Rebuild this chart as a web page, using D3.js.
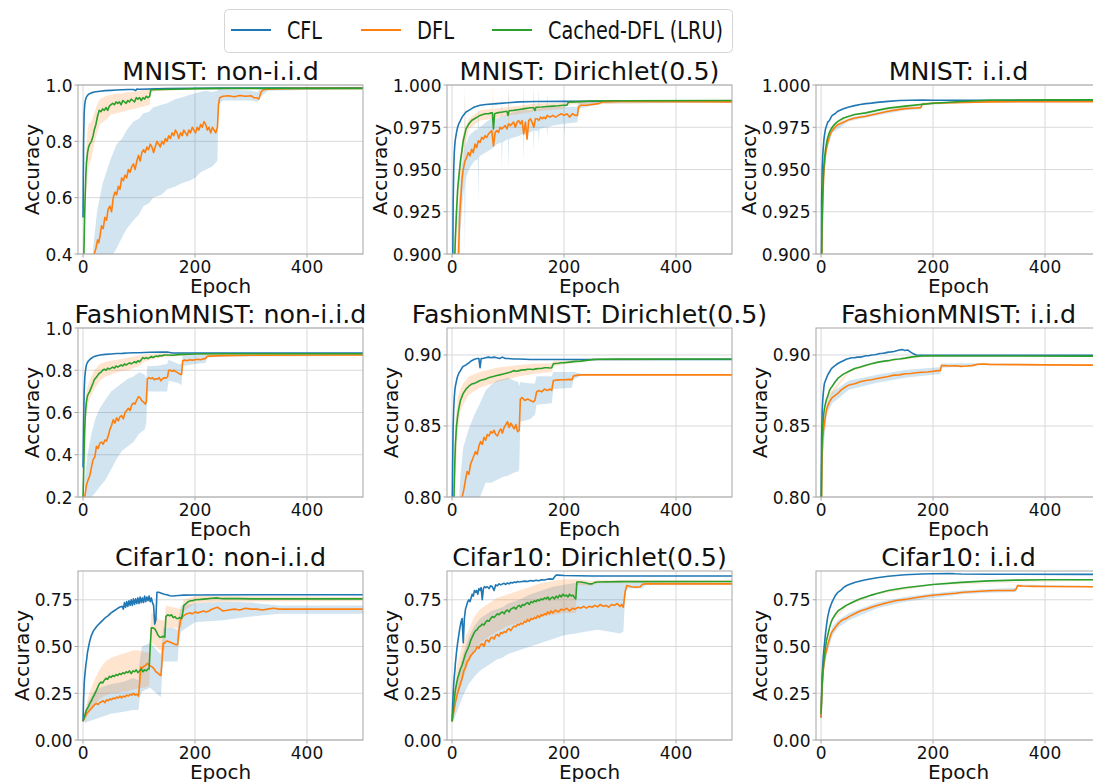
<!DOCTYPE html>
<html>
<head>
<meta charset="utf-8">
<script src="https://cdn.jsdelivr.net/npm/d3@7"></script>
<style>
  body { margin: 0; background: #fff; }
  svg { display: block; }
  text { font-family: "DejaVu Sans", sans-serif; fill: #111; }
</style>
</head>
<body>
<svg id="chart" width="1093" height="782"></svg>
<script>
// ---- Series: [epoch, accuracy]; bands: [epoch, low, high] ----

const seriesNames = ["CFL", "DFL", "Cached-DFL (LRU)"];
const seriesColors = ["#1f77b4", "#ff7f0e", "#2ca02c"];
const xTicks = [0, 200, 400];

// MNIST: non-i.i.d
const cfl_mnistNon = [[0,.53],[1,.80],[2,.90],[3,.93],[4,.945],[6,.957],[8,.963],[10,.967],[15,.972],[20,.975],[30,.978],[40,.98],[50,.981],[60,.982],[70,.983],[80,.984],[90,.984],[94,.98],[96,.986],[100,.985],[150,.987],[200,.988],[250,.989],[500,.99]];
const dfl_mnistNon = [[0,.12],[5,.2],[10,.28],[15,.34],[18,.38],[20,.40],[23,.42],[26,.45],[28,.44],[30,.46],[33,.50],[36,.49],[39,.53],[42,.52],[45,.56],[48,.57],[51,.55],[54,.60],[57,.62],[60,.61],[63,.64],[66,.63],[69,.67],[72,.66],[75,.68],[78,.67],[81,.70],[84,.69],[87,.71],[90,.72],[93,.70],[96,.73],[99,.75],[102,.73],[105,.76],[108,.77],[111,.76],[114,.78],[117,.77],[120,.79],[123,.78],[126,.76],[129,.78],[132,.80],[135,.79],[138,.78],[141,.80],[144,.79],[147,.81],[150,.80],[153,.82],[156,.81],[159,.83],[162,.82],[165,.84],[168,.83],[171,.81],[174,.83],[177,.82],[180,.84],[183,.83],[186,.82],[189,.84],[192,.83],[195,.85],[198,.84],[201,.83],[204,.85],[207,.84],[210,.86],[213,.85],[216,.87],[219,.86],[222,.84],[225,.85],[228,.83],[231,.85],[234,.84],[237,.83],[240,.85],[242,.93],[244,.955],[250,.96],[260,.962],[270,.958],[280,.963],[290,.96],[300,.962],[305,.955],[310,.955],[314,.95],[318,.975],[322,.983],[330,.985],[360,.987],[400,.988],[500,.988]];
const cached_mnistNon = [[0,.20],[1,.35],[2,.45],[3,.55],[4,.62],[5,.68],[6,.72],[8,.76],[10,.78],[12,.79],[15,.80],[18,.82],[20,.84],[23,.86],[26,.89],[29,.91],[32,.905],[35,.915],[38,.91],[41,.92],[44,.91],[47,.925],[50,.93],[53,.935],[56,.93],[59,.94],[62,.935],[65,.94],[68,.93],[71,.945],[74,.94],[77,.935],[80,.945],[83,.94],[86,.95],[89,.945],[92,.94],[95,.955],[98,.95],[101,.955],[104,.945],[107,.955],[110,.95],[113,.96],[116,.955],[119,.96],[121,.982],[125,.983],[140,.984],[160,.985],[180,.986],[200,.987],[250,.988],[500,.988]];
const dflBand_mnistNon = [[18,.30,.42],[25,.30,.55],[35,.32,.65],[48,.38,.73],[60,.42,.79],[70,.46,.81],[78,.49,.84],[90,.52,.87],[100,.54,.88],[108,.57,.90],[118,.58,.905],[125,.60,.92],[140,.61,.93],[150,.63,.935],[165,.64,.95],[175,.65,.955],[190,.66,.965],[200,.67,.97],[210,.69,.976],[220,.70,.98],[230,.71,.975],[240,.73,.98],[242,.93,.99],[250,.945,.985],[300,.945,.98],[312,.94,.975],[318,.96,.99],[330,.98,.99],[500,.986,.99]];
const cachedBand_mnistNon = [[1,.30,.40],[3,.48,.62],[5,.60,.75],[8,.68,.84],[10,.71,.86],[15,.74,.87],[20,.79,.90],[25,.83,.93],[30,.86,.95],[40,.875,.96],[50,.895,.965],[60,.90,.97],[70,.905,.97],[80,.91,.975],[90,.915,.975],[100,.92,.98],[110,.925,.985],[119,.93,.985],[121,.975,.99],[130,.978,.99],[200,.984,.99],[500,.986,.99]];
const yTicks_mnistNon = [0.4, 0.6, 0.8, 1.0];

// MNIST: Dirichlet(0.5)
const cfl_mnistDir = [[0,.80],[1,.88],[2,.93],[3,.95],[4,.96],[5,.965],[6,.968],[8,.972],[10,.975],[12,.977],[15,.979],[18,.981],[20,.982],[25,.984],[30,.985],[35,.986],[40,.987],[50,.988],[60,.9885],[80,.989],[100,.9895],[120,.99],[150,.9902],[200,.9903],[300,.9904],[500,.9905]];
const dfl_mnistDir = [[0,.50],[5,.75],[10,.88],[12,.905],[14,.925],[16,.935],[18,.945],[20,.95],[23,.955],[26,.957],[29,.96],[32,.958],[35,.962],[38,.96],[41,.965],[44,.963],[47,.967],[50,.966],[53,.969],[56,.968],[59,.97],[62,.969],[65,.971],[68,.972],[71,.973],[74,.964],[77,.972],[80,.973],[83,.972],[86,.975],[89,.974],[92,.975],[95,.976],[98,.974],[101,.977],[104,.976],[107,.977],[110,.978],[113,.975],[116,.978],[119,.979],[122,.977],[125,.979],[128,.971],[131,.978],[134,.968],[137,.979],[140,.98],[143,.978],[146,.975],[149,.98],[152,.98],[155,.979],[158,.981],[161,.98],[164,.981],[167,.98],[170,.982],[175,.981],[180,.982],[185,.981],[190,.982],[195,.983],[200,.982],[205,.983],[210,.981],[215,.983],[220,.982],[224,.982],[226,.987],[230,.988],[240,.988],[250,.9885],[262,.989],[268,.990],[300,.9902],[400,.9901],[500,.99]];
const cached_mnistDir = [[0,.70],[2,.80],[4,.88],[5,.90],[6,.91],[8,.925],[10,.938],[12,.945],[15,.955],[18,.962],[20,.967],[25,.974],[30,.977],[35,.979],[40,.980],[45,.981],[50,.982],[55,.9825],[60,.983],[65,.983],[70,.9835],[72,.9835],[74,.974],[76,.983],[80,.9835],[90,.984],[98,.9845],[100,.982],[102,.9848],[110,.985],[120,.9855],[130,.986],[140,.9865],[146,.9865],[148,.985],[150,.9868],[160,.987],[170,.9873],[180,.9875],[190,.9877],[200,.988],[205,.988],[208,.9898],[220,.990],[250,.9905],[300,.9907],[500,.9908]];
const dflBand_mnistDir = [[10,.85,.92],[15,.915,.945],[20,.935,.96],[22,.94,.962],[23,.90,.995],[24,.942,.963],[25,.945,.965],[30,.95,.97],[40,.955,.973],[46,.956,.974],[47,.93,.99],[48,.957,.975],[50,.958,.975],[60,.96,.978],[70,.962,.98],[80,.965,.98],[88,.966,.981],[89,.95,.995],[90,.966,.981],[100,.968,.983],[101,.95,1.0],[102,.968,.983],[120,.97,.985],[127,.971,.985],[128,.955,1.0],[129,.971,.985],[140,.972,.985],[145,.973,.986],[146,.96,1.0],[147,.973,.986],[154,.973,.986],[155,.965,.998],[156,.974,.986],[169,.975,.987],[170,.97,.995],[171,.975,.987],[180,.976,.987],[200,.977,.987],[201,.97,.993],[202,.977,.987],[224,.978,.987],[226,.986,.99],[270,.989,.991],[500,.9895,.9905]];
const cachedBand_mnistDir = [[2,.77,.83],[5,.88,.92],[10,.93,.945],[20,.962,.972],[22,.963,.973],[23,.95,1.0],[24,.965,.975],[30,.974,.98],[50,.979,.985],[72,.98,.986],[73,.97,1.0],[74,.97,.985],[76,.98,.986],[100,.982,.987],[101,.975,.998],[102,.982,.987],[150,.9845,.989],[200,.986,.9895],[208,.9885,.991],[500,.9902,.9912]];
const yTicks_mnistDir = [0.9, 0.925, 0.95, 0.975, 1.0];

// MNIST: i.i.d
const cfl_mnistIid = [[0,.80],[1,.93],[2,.95],[3,.958],[4,.963],[5,.967],[6,.97],[8,.974],[10,.976],[12,.978],[15,.979],[18,.981],[20,.982],[25,.983],[30,.9845],[40,.986],[50,.987],[60,.9878],[70,.9885],[80,.989],[90,.9893],[100,.9897],[120,.9903],[140,.9908],[160,.991],[180,.9911],[200,.991],[250,.991],[300,.991],[500,.991]];
const dfl_mnistIid = [[0,.80],[1,.89],[2,.915],[3,.93],[4,.94],[5,.948],[6,.952],[8,.959],[10,.963],[12,.966],[15,.9695],[18,.972],[20,.973],[25,.975],[30,.9765],[40,.978],[50,.9795],[60,.9805],[80,.9815],[100,.983],[120,.9845],[135,.9853],[150,.986],[170,.9864],[178,.9866],[181,.9888],[200,.9892],[250,.9897],[300,.99],[500,.9902]];
const cached_mnistIid = [[0,.80],[1,.90],[2,.92],[3,.935],[4,.945],[5,.952],[6,.956],[8,.962],[10,.966],[12,.969],[15,.972],[18,.974],[20,.975],[25,.977],[30,.9785],[40,.9805],[50,.9815],[60,.9825],[80,.9835],[100,.985],[120,.9863],[150,.9875],[200,.9892],[250,.9902],[300,.991],[400,.9912],[500,.9912]];
const dflBand_mnistIid = [[1,.885,.895],[5,.945,.951],[10,.961,.965],[20,.9715,.9745],[50,.9785,.9805],[100,.982,.984],[150,.985,.987],[178,.9857,.9875],[181,.988,.9895],[250,.9892,.9902],[500,.9898,.9906]];
const cachedBand_mnistIid = [[1,.897,.903],[5,.95,.954],[10,.9645,.9675],[20,.974,.976],[50,.981,.982],[100,.9845,.9855],[200,.9888,.9896],[500,.991,.9914]];
const yTicks_mnistIid = [0.9, 0.925, 0.95, 0.975, 1.0];

// FashionMNIST: non-i.i.d
const cfl_fmnistNon = [[0,.34],[1,.55],[2,.70],[3,.76],[4,.79],[5,.81],[6,.825],[8,.838],[10,.845],[12,.85],[15,.857],[18,.862],[20,.865],[25,.869],[30,.872],[40,.875],[50,.877],[60,.879],[70,.88],[80,.882],[90,.883],[100,.883],[120,.885],[140,.886],[150,.886],[155,.884],[160,.882],[200,.882],[300,.882],[500,.882]];
const dfl_fmnistNon = [[0,.12],[3,.20],[6,.255],[9,.28],[12,.30],[15,.34],[18,.377],[21,.39],[24,.44],[27,.43],[30,.455],[33,.46],[36,.45],[39,.47],[42,.465],[45,.49],[48,.52],[51,.54],[54,.566],[57,.55],[60,.575],[63,.56],[66,.58],[69,.585],[72,.57],[75,.60],[78,.61],[81,.62],[84,.61],[87,.635],[90,.645],[93,.64],[96,.66],[99,.675],[102,.67],[105,.655],[108,.65],[111,.64],[113,.65],[115,.76],[118,.765],[121,.76],[124,.765],[127,.755],[130,.76],[133,.758],[136,.765],[139,.75],[142,.76],[145,.765],[148,.762],[151,.77],[153,.80],[156,.80],[159,.795],[162,.80],[165,.795],[168,.79],[171,.785],[174,.78],[176,.78],[178,.845],[182,.848],[186,.845],[190,.85],[195,.848],[200,.85],[205,.852],[210,.85],[215,.855],[219,.855],[221,.865],[225,.867],[235,.868],[250,.869],[300,.871],[500,.872]];
const cached_fmnistNon = [[0,.20],[1,.30],[2,.42],[3,.52],[4,.58],[5,.62],[6,.65],[8,.68],[10,.69],[12,.70],[15,.72],[18,.74],[20,.755],[23,.765],[26,.775],[29,.786],[32,.79],[35,.80],[38,.805],[41,.80],[44,.81],[47,.805],[50,.81],[53,.815],[56,.81],[59,.82],[62,.815],[65,.82],[68,.825],[71,.82],[74,.83],[77,.825],[80,.83],[83,.835],[86,.83],[89,.835],[92,.84],[95,.835],[98,.845],[101,.84],[104,.85],[107,.86],[110,.855],[113,.86],[116,.855],[119,.86],[122,.865],[125,.86],[128,.865],[131,.867],[134,.865],[137,.87],[140,.868],[145,.872],[150,.872],[160,.871],[170,.874],[180,.875],[190,.876],[200,.877],[250,.878],[500,.878]];
const dflBand_fmnistNon = [[3,.12,.28],[8,.15,.40],[15,.20,.50],[22,.22,.57],[30,.25,.62],[40,.28,.66],[50,.33,.70],[60,.38,.72],[70,.42,.74],[80,.44,.76],[90,.46,.77],[100,.50,.79],[110,.52,.78],[113,.55,.76],[115,.70,.82],[130,.70,.82],[150,.70,.83],[153,.75,.85],[170,.74,.83],[176,.73,.83],[178,.82,.87],[200,.83,.872],[219,.835,.875],[221,.86,.872],[250,.864,.874],[500,.868,.876]];
const cachedBand_fmnistNon = [[1,.25,.35],[3,.45,.60],[6,.60,.70],[10,.65,.74],[15,.68,.77],[20,.71,.80],[30,.75,.83],[40,.77,.84],[50,.78,.845],[60,.79,.85],[70,.795,.855],[80,.80,.86],[90,.81,.865],[100,.82,.87],[110,.84,.875],[120,.85,.878],[140,.86,.88],[160,.865,.88],[200,.872,.882],[500,.875,.881]];
const yTicks_fmnistNon = [0.2, 0.4, 0.6, 0.8, 1.0];

// FashionMNIST: Dirichlet(0.5)
const cfl_fmnistDir = [[0,.78],[1,.82],[2,.85],[3,.862],[4,.87],[5,.875],[6,.878],[8,.882],[10,.885],[12,.887],[15,.889],[18,.891],[20,.892],[25,.893],[30,.8945],[35,.896],[40,.897],[45,.8975],[48,.8975],[50,.891],[52,.8975],[55,.8975],[60,.898],[65,.8985],[70,.898],[75,.8985],[80,.898],[85,.8975],[90,.8985],[95,.8975],[100,.8975],[110,.8972],[120,.8972],[130,.897],[140,.8968],[150,.8968],[200,.8968],[300,.8968],[500,.8968]];
const dfl_fmnistDir = [[0,.65],[5,.72],[10,.76],[15,.79],[18,.80],[21,.805],[24,.812],[27,.818],[30,.816],[33,.823],[36,.826],[39,.829],[42,.832],[45,.83],[48,.836],[51,.839],[54,.837],[57,.842],[60,.84],[63,.844],[66,.843],[69,.846],[72,.845],[75,.847],[78,.844],[81,.843],[84,.846],[87,.848],[90,.845],[93,.849],[96,.851],[99,.853],[102,.849],[105,.852],[108,.85],[111,.848],[114,.851],[117,.846],[120,.847],[122,.869],[125,.87],[130,.868],[135,.869],[140,.868],[145,.867],[148,.868],[151,.874],[155,.875],[160,.874],[165,.876],[170,.875],[175,.876],[178,.875],[181,.882],[190,.8825],[200,.8826],[210,.8828],[214,.8825],[217,.8853],[225,.8858],[231,.886],[300,.886],[500,.886]];
const cached_fmnistDir = [[0,.70],[1,.74],[2,.77],[3,.79],[4,.81],[5,.825],[6,.837],[8,.85],[10,.857],[12,.862],[15,.868],[18,.871],[20,.873],[25,.876],[30,.878],[35,.8795],[40,.880],[45,.881],[50,.882],[55,.8825],[60,.883],[65,.884],[70,.8845],[75,.885],[80,.8856],[85,.886],[90,.8865],[95,.887],[100,.8875],[105,.888],[110,.889],[115,.8885],[120,.889],[125,.8895],[130,.8895],[135,.890],[140,.890],[145,.8898],[150,.8902],[155,.8905],[160,.8905],[165,.891],[170,.891],[175,.8908],[178,.891],[181,.8938],[185,.894],[190,.8942],[195,.8945],[200,.8945],[210,.895],[220,.8955],[230,.8957],[240,.8962],[250,.8967],[260,.897],[300,.8971],[500,.8972]];
const dflBand_fmnistDir = [[10,.74,.78],[15,.76,.815],[20,.77,.835],[30,.785,.848],[40,.795,.858],[50,.80,.866],[60,.81,.875],[70,.81,.879],[80,.812,.882],[90,.814,.883],[100,.815,.884],[110,.817,.882],[118,.818,.881],[120,.82,.878],[122,.853,.881],[140,.855,.88],[148,.858,.88],[151,.865,.885],[178,.866,.885],[181,.876,.888],[214,.877,.888],[217,.883,.888],[231,.8855,.8867],[500,.8855,.8866]];
const cachedBand_fmnistDir = [[5,.80,.85],[10,.845,.87],[15,.86,.876],[20,.865,.88],[30,.872,.885],[50,.877,.888],[80,.881,.891],[100,.883,.892],[120,.885,.893],[150,.887,.894],[178,.888,.894],[181,.892,.896],[200,.8935,.8958],[250,.896,.8975],[500,.8968,.8976]];
const yTicks_fmnistDir = [0.80, 0.85, 0.90];

// FashionMNIST: i.i.d
const cfl_fmnistIid = [[0,.79],[1,.84],[2,.86],[3,.868],[4,.873],[5,.877],[6,.88],[8,.882],[10,.884],[12,.886],[15,.888],[18,.89],[20,.891],[25,.8925],[30,.894],[35,.895],[40,.896],[45,.897],[50,.8975],[55,.898],[60,.898],[65,.8985],[70,.8985],[75,.899],[80,.8995],[85,.8995],[90,.900],[95,.9002],[100,.9005],[105,.901],[110,.9012],[115,.9015],[120,.902],[125,.9022],[130,.9025],[135,.903],[140,.9035],[145,.9038],[150,.9032],[155,.9035],[160,.902],[165,.9008],[170,.900],[180,.8998],[200,.8998],[300,.8998],[500,.8998]];
const dfl_fmnistIid = [[0,.72],[1,.80],[2,.83],[3,.84],[4,.845],[5,.849],[6,.852],[8,.857],[10,.862],[12,.864],[15,.867],[18,.869],[20,.87],[25,.8715],[30,.873],[35,.875],[40,.8765],[45,.8778],[50,.8788],[60,.8798],[70,.8812],[80,.882],[90,.8826],[100,.8834],[110,.8841],[120,.8848],[130,.8858],[140,.886],[150,.8868],[160,.887],[170,.8875],[180,.8878],[190,.888],[200,.8885],[205,.8888],[210,.889],[213,.889],[215,.8925],[220,.8925],[230,.8922],[240,.8924],[250,.892],[260,.8922],[270,.8925],[280,.8935],[290,.8936],[300,.8934],[350,.8932],[400,.893],[500,.8928]];
const cached_fmnistIid = [[0,.75],[1,.82],[2,.84],[3,.85],[4,.855],[5,.859],[6,.862],[8,.866],[10,.869],[12,.871],[15,.875],[18,.877],[20,.878],[25,.881],[30,.8835],[40,.8865],[50,.8885],[60,.8905],[70,.8915],[80,.8928],[90,.8938],[100,.8948],[110,.8955],[120,.896],[130,.8968],[140,.8972],[150,.8978],[160,.8985],[170,.899],[180,.8993],[200,.8995],[250,.8993],[500,.8992]];
const dflBand_fmnistIid = [[2,.825,.835],[10,.858,.866],[20,.866,.874],[50,.8755,.882],[100,.8805,.886],[150,.884,.8895],[200,.886,.891],[213,.8865,.8915],[215,.891,.894],[280,.8928,.8942],[500,.8925,.8932]];
const cachedBand_fmnistIid = [[2,.837,.843],[10,.867,.871],[50,.8878,.8892],[100,.8943,.8953],[200,.8992,.8998],[500,.899,.8994]];
const yTicks_fmnistIid = [0.80, 0.85, 0.90];

// Cifar10: non-i.i.d
const cfl_cifarNon = [[0,.10],[1,.22],[2,.30],[3,.34],[4,.37],[5,.40],[6,.42],[8,.47],[10,.50],[12,.53],[15,.56],[18,.58],[20,.59],[25,.61],[30,.625],[35,.64],[40,.655],[45,.665],[50,.68],[55,.69],[60,.70],[65,.71],[70,.715],[72,.70],[74,.735],[76,.71],[78,.74],[80,.715],[82,.745],[84,.72],[86,.75],[88,.72],[90,.755],[92,.725],[94,.755],[96,.73],[98,.76],[100,.73],[102,.765],[104,.735],[106,.76],[108,.735],[110,.77],[112,.74],[114,.765],[116,.745],[118,.77],[120,.74],[122,.76],[124,.735],[126,.72],[128,.62],[130,.64],[132,.79],[135,.79],[140,.785],[145,.78],[150,.777],[155,.772],[160,.77],[170,.773],[180,.775],[200,.776],[300,.777],[500,.777]];
const dfl_cifarNon = [[0,.10],[3,.12],[6,.14],[9,.15],[12,.16],[15,.17],[18,.18],[21,.19],[24,.195],[27,.19],[30,.20],[33,.205],[36,.21],[39,.20],[42,.215],[45,.21],[48,.22],[51,.215],[54,.225],[57,.22],[60,.23],[63,.225],[66,.235],[69,.225],[72,.235],[75,.23],[78,.24],[81,.235],[84,.245],[87,.24],[90,.25],[93,.24],[96,.245],[99,.235],[101,.30],[103,.39],[106,.385],[109,.395],[112,.40],[115,.41],[118,.40],[121,.395],[124,.39],[127,.38],[130,.365],[133,.36],[136,.35],[139,.345],[141,.42],[143,.515],[146,.52],[150,.53],[154,.525],[158,.52],[162,.515],[166,.51],[169,.51],[171,.58],[174,.64],[178,.66],[182,.67],[186,.675],[190,.68],[195,.675],[200,.685],[205,.68],[210,.685],[215,.69],[220,.685],[225,.69],[230,.70],[235,.705],[240,.71],[245,.70],[250,.69],[260,.695],[270,.70],[280,.695],[290,.705],[300,.70],[310,.70],[320,.695],[330,.70],[340,.705],[350,.70],[400,.70],[500,.70]];
const cached_cifarNon = [[0,.10],[2,.12],[4,.14],[6,.16],[8,.17],[10,.18],[12,.195],[15,.21],[18,.23],[20,.24],[23,.26],[26,.28],[29,.30],[32,.31],[35,.305],[38,.32],[41,.33],[44,.325],[47,.34],[50,.335],[53,.345],[56,.34],[59,.35],[62,.345],[65,.355],[68,.35],[71,.36],[74,.355],[77,.365],[80,.36],[83,.37],[86,.355],[89,.37],[92,.365],[95,.375],[98,.36],[101,.37],[104,.38],[107,.365],[110,.375],[113,.37],[116,.38],[118,.38],[120,.50],[122,.60],[125,.60],[128,.595],[131,.58],[134,.56],[137,.55],[140,.55],[143,.555],[146,.55],[148,.66],[151,.67],[155,.665],[158,.67],[161,.655],[164,.66],[167,.65],[170,.65],[173,.655],[176,.65],[178,.68],[180,.72],[184,.73],[188,.74],[192,.745],[196,.745],[200,.75],[210,.752],[220,.755],[230,.758],[240,.76],[250,.756],[260,.757],[280,.756],[300,.755],[350,.755],[500,.755]];
const dflBand_cifarNon = [[3,.09,.15],[10,.10,.21],[20,.11,.26],[30,.12,.28],[50,.14,.30],[70,.15,.31],[90,.16,.33],[99,.16,.32],[101,.22,.42],[105,.26,.50],[120,.28,.52],[135,.24,.47],[139,.23,.46],[141,.33,.52],[143,.42,.60],[160,.42,.60],[169,.42,.59],[171,.52,.65],[175,.58,.72],[200,.63,.73],[250,.64,.74],[300,.66,.735],[350,.675,.72],[500,.675,.72]];
const cachedBand_cifarNon = [[2,.10,.14],[10,.14,.24],[20,.18,.32],[30,.22,.38],[40,.24,.42],[50,.25,.44],[60,.25,.45],[70,.26,.46],[80,.26,.47],[90,.27,.48],[100,.28,.48],[110,.28,.47],[118,.29,.47],[120,.40,.60],[122,.52,.68],[130,.50,.67],[137,.48,.64],[146,.48,.64],[148,.60,.72],[160,.60,.71],[176,.60,.70],[180,.69,.75],[200,.73,.77],[250,.74,.77],[500,.745,.765]];
const yTicks_cifarNon = [0.00, 0.25, 0.50, 0.75];

// Cifar10: Dirichlet(0.5)
const cfl_cifarDir = [[0,.10],[1,.18],[2,.25],[3,.30],[4,.34],[5,.37],[6,.41],[8,.47],[10,.52],[12,.56],[14,.60],[16,.63],[18,.65],[20,.52],[22,.65],[24,.70],[26,.72],[28,.74],[30,.75],[32,.74],[34,.76],[36,.78],[38,.77],[40,.80],[42,.79],[44,.80],[46,.78],[48,.81],[50,.80],[52,.815],[54,.75],[56,.81],[58,.82],[60,.815],[63,.82],[66,.81],[69,.825],[72,.82],[75,.80],[78,.83],[81,.825],[84,.835],[87,.83],[90,.835],[93,.838],[96,.832],[99,.84],[102,.835],[105,.843],[108,.84],[111,.845],[114,.842],[117,.848],[120,.845],[125,.848],[130,.85],[135,.848],[140,.853],[145,.85],[150,.855],[155,.852],[160,.857],[165,.856],[170,.86],[175,.862],[180,.86],[183,.872],[186,.883],[190,.882],[200,.88],[250,.877],[300,.877],[500,.877]];
const dfl_cifarDir = [[0,.10],[3,.15],[6,.20],[9,.24],[12,.27],[15,.30],[18,.33],[21,.37],[24,.39],[27,.42],[30,.43],[33,.45],[36,.46],[39,.47],[42,.48],[45,.50],[48,.49],[51,.51],[54,.515],[57,.50],[60,.53],[63,.535],[66,.525],[69,.545],[72,.55],[75,.54],[78,.56],[81,.565],[84,.555],[87,.575],[90,.57],[93,.58],[96,.575],[99,.59],[102,.595],[105,.585],[108,.60],[111,.61],[114,.605],[117,.62],[120,.615],[123,.625],[126,.62],[129,.635],[132,.63],[135,.645],[138,.635],[141,.65],[144,.645],[147,.655],[150,.65],[153,.665],[156,.655],[159,.67],[162,.665],[165,.675],[168,.67],[171,.685],[174,.675],[177,.69],[180,.68],[185,.695],[190,.685],[195,.70],[200,.695],[205,.705],[210,.69],[215,.705],[220,.70],[225,.71],[230,.705],[235,.715],[240,.705],[245,.715],[250,.71],[255,.72],[260,.712],[265,.725],[270,.715],[275,.72],[280,.71],[285,.725],[290,.72],[295,.73],[300,.715],[303,.725],[306,.71],[309,.79],[312,.826],[320,.82],[330,.817],[336,.82],[340,.833],[345,.835],[400,.835],[500,.835]];
const cached_cifarDir = [[0,.10],[2,.16],[4,.22],[6,.27],[8,.30],[10,.33],[12,.35],[15,.38],[18,.40],[21,.43],[24,.46],[27,.48],[30,.50],[33,.53],[36,.55],[39,.57],[42,.585],[45,.59],[48,.605],[51,.61],[54,.62],[57,.615],[60,.63],[63,.64],[66,.635],[69,.65],[72,.66],[75,.655],[78,.665],[81,.675],[84,.67],[87,.68],[90,.685],[93,.675],[96,.69],[99,.695],[102,.685],[105,.70],[108,.705],[111,.71],[114,.70],[117,.715],[120,.72],[123,.71],[126,.725],[129,.72],[132,.73],[135,.735],[138,.725],[141,.74],[144,.735],[147,.745],[150,.74],[153,.75],[156,.745],[159,.755],[162,.75],[165,.76],[168,.755],[171,.765],[174,.75],[177,.76],[180,.765],[183,.755],[186,.77],[189,.76],[192,.775],[195,.765],[198,.78],[201,.77],[204,.775],[207,.765],[210,.78],[213,.77],[216,.775],[219,.76],[221,.755],[223,.845],[230,.845],[240,.84],[245,.835],[250,.835],[255,.843],[260,.845],[300,.847],[500,.848]];
const dflBand_cifarDir = [[2,.09,.16],[6,.13,.28],[10,.16,.34],[15,.20,.40],[20,.24,.46],[30,.30,.55],[40,.34,.61],[50,.37,.65],[60,.39,.67],[70,.41,.69],[80,.43,.70],[90,.44,.71],[100,.46,.73],[120,.48,.75],[140,.50,.78],[160,.52,.80],[180,.54,.82],[200,.56,.83],[220,.57,.84],[240,.58,.84],[260,.59,.84],[280,.58,.85],[300,.57,.85],[306,.58,.84],[309,.76,.84],[312,.81,.84],[340,.81,.845],[345,.828,.842],[500,.828,.842]];
const cachedBand_cifarDir = [[2,.12,.20],[6,.20,.34],[10,.25,.41],[15,.29,.47],[20,.33,.53],[30,.41,.59],[40,.48,.66],[50,.52,.70],[60,.54,.72],[70,.56,.74],[80,.58,.76],[100,.61,.78],[120,.63,.80],[140,.65,.82],[160,.66,.84],[180,.67,.85],[200,.68,.86],[221,.68,.86],[223,.83,.86],[250,.825,.85],[260,.838,.855],[500,.842,.854]];
const yTicks_cifarDir = [0.00, 0.25, 0.50, 0.75];

// Cifar10: i.i.d
const cfl_cifarIid = [[0,.12],[1,.25],[2,.35],[3,.40],[4,.445],[5,.48],[6,.51],[8,.57],[10,.62],[12,.66],[15,.70],[18,.725],[20,.74],[25,.77],[30,.79],[35,.80],[40,.815],[45,.825],[50,.832],[60,.842],[70,.85],[80,.857],[90,.863],[100,.868],[120,.876],[150,.884],[180,.888],[200,.889],[230,.891],[240,.889],[250,.888],[300,.887],[500,.886]];
const dfl_cifarIid = [[0,.12],[1,.22],[2,.28],[3,.33],[4,.37],[5,.40],[6,.42],[8,.46],[10,.48],[12,.51],[15,.54],[18,.57],[20,.58],[25,.60],[30,.62],[35,.635],[40,.645],[45,.65],[50,.66],[60,.675],[70,.69],[80,.70],[90,.71],[100,.72],[110,.728],[120,.735],[135,.746],[150,.752],[165,.76],[180,.766],[195,.773],[210,.777],[225,.781],[240,.785],[254,.79],[270,.793],[285,.796],[300,.798],[314,.80],[330,.80],[344,.80],[348,.805],[351,.826],[360,.824],[380,.822],[400,.821],[500,.82]];
const cached_cifarIid = [[0,.14],[1,.22],[2,.30],[3,.35],[4,.39],[5,.42],[6,.45],[8,.50],[10,.535],[12,.56],[15,.60],[18,.63],[20,.645],[25,.67],[30,.69],[35,.70],[40,.71],[45,.72],[50,.727],[60,.742],[70,.755],[80,.765],[90,.775],[100,.784],[120,.80],[150,.814],[200,.832],[250,.843],[300,.851],[350,.855],[400,.857],[500,.857]];
const dflBand_cifarIid = [[1,.18,.26],[5,.37,.43],[10,.455,.505],[20,.555,.605],[30,.60,.64],[50,.64,.68],[100,.705,.735],[150,.74,.765],[200,.76,.785],[250,.78,.80],[300,.788,.808],[348,.792,.815],[351,.82,.832],[500,.817,.823]];
const cachedBand_cifarIid = [[1,.20,.24],[5,.41,.43],[10,.525,.545],[20,.64,.65],[50,.722,.732],[100,.78,.788],[200,.829,.835],[500,.855,.859]];
const yTicks_cifarIid = [0.00, 0.25, 0.50, 0.75];

// ---- Panel table (row-major 3x3) ----
const panels = [
  { title: "MNIST: non-i.i.d", y: [0.4, 1.0], ticks: yTicks_mnistNon, fmt: ".1f",
    lines: [cfl_mnistNon, dfl_mnistNon, cached_mnistNon], bands: [dflBand_mnistNon, cachedBand_mnistNon] },
  { title: "MNIST: Dirichlet(0.5)", y: [0.9, 1.0], ticks: yTicks_mnistDir, fmt: ".3f",
    lines: [cfl_mnistDir, dfl_mnistDir, cached_mnistDir], bands: [dflBand_mnistDir, cachedBand_mnistDir] },
  { title: "MNIST: i.i.d", y: [0.9, 1.0], ticks: yTicks_mnistIid, fmt: ".3f",
    lines: [cfl_mnistIid, dfl_mnistIid, cached_mnistIid], bands: [dflBand_mnistIid, cachedBand_mnistIid] },
  { title: "FashionMNIST: non-i.i.d", y: [0.2, 1.0], ticks: yTicks_fmnistNon, fmt: ".1f",
    lines: [cfl_fmnistNon, dfl_fmnistNon, cached_fmnistNon], bands: [dflBand_fmnistNon, cachedBand_fmnistNon] },
  { title: "FashionMNIST: Dirichlet(0.5)", y: [0.8, 0.919], ticks: yTicks_fmnistDir, fmt: ".2f",
    lines: [cfl_fmnistDir, dfl_fmnistDir, cached_fmnistDir], bands: [dflBand_fmnistDir, cachedBand_fmnistDir] },
  { title: "FashionMNIST: i.i.d", y: [0.8, 0.919], ticks: yTicks_fmnistIid, fmt: ".2f",
    lines: [cfl_fmnistIid, dfl_fmnistIid, cached_fmnistIid], bands: [dflBand_fmnistIid, cachedBand_fmnistIid] },
  { title: "Cifar10: non-i.i.d", y: [0, 0.904], ticks: yTicks_cifarNon, fmt: ".2f",
    lines: [cfl_cifarNon, dfl_cifarNon, cached_cifarNon], bands: [dflBand_cifarNon, cachedBand_cifarNon] },
  { title: "Cifar10: Dirichlet(0.5)", y: [0, 0.904], ticks: yTicks_cifarDir, fmt: ".2f",
    lines: [cfl_cifarDir, dfl_cifarDir, cached_cifarDir], bands: [dflBand_cifarDir, cachedBand_cifarDir] },
  { title: "Cifar10: i.i.d", y: [0, 0.904], ticks: yTicks_cifarIid, fmt: ".2f",
    lines: [cfl_cifarIid, dfl_cifarIid, cached_cifarIid], bands: [dflBand_cifarIid, cachedBand_cifarIid] }
];

// Band colours follow the plotting cycle: first band blue, second band orange
const bandColors = ["#1f77b4", "#ff7f0e"];

// ---- Layout ----
const colLeft = [78, 447, 816];
const rowTop = [85, 328, 571];
const plotW = 285, plotH = 169;
const xDomain = [-9, 500];

const svg = d3.select("#chart");
svg.append("rect").attr("width", 1093).attr("height", 782).attr("fill", "#fff");

panels.forEach((p, i) => {
  const left = colLeft[i % 3], top = rowTop[Math.floor(i / 3)];
  const x = d3.scaleLinear().domain(xDomain).range([left, left + plotW]);
  const y = d3.scaleLinear().domain(p.y).range([top + plotH, top]);
  const g = svg.append("g");

  const clipId = "clip" + i;
  g.append("clipPath").attr("id", clipId)
    .append("rect").attr("x", left).attr("y", top).attr("width", plotW).attr("height", plotH);

  // grid
  g.append("g").selectAll("line").data(xTicks).join("line")
    .attr("x1", d => x(d)).attr("x2", d => x(d))
    .attr("y1", top).attr("y2", top + plotH)
    .attr("stroke", "#d9d9d9").attr("stroke-width", 1);
  g.append("g").selectAll("line").data(p.ticks).join("line")
    .attr("x1", left).attr("x2", left + plotW)
    .attr("y1", d => y(d)).attr("y2", d => y(d))
    .attr("stroke", "#d9d9d9").attr("stroke-width", 1);

  const plot = g.append("g").attr("clip-path", `url(#${clipId})`);

  // bands
  const area = d3.area().x(d => x(d[0])).y0(d => y(d[1])).y1(d => y(d[2]));
  p.bands.forEach((b, k) => {
    plot.append("path").datum(b).attr("d", area)
      .attr("fill", bandColors[k]).attr("fill-opacity", 0.2).attr("stroke", "none");
  });

  // lines
  const line = d3.line().x(d => x(d[0])).y(d => y(d[1]));
  p.lines.forEach((s, k) => {
    plot.append("path").datum(s).attr("d", line)
      .attr("fill", "none").attr("stroke", seriesColors[k])
      .attr("stroke-width", 1.6).attr("stroke-linejoin", "round");
  });

  // frame
  g.append("rect").attr("x", left).attr("y", top).attr("width", plotW).attr("height", plotH)
    .attr("fill", "none").attr("stroke", "#a6a6a6").attr("stroke-width", 1);

  // x ticks
  const xt = g.append("g");
  xTicks.forEach(t => {
    xt.append("line").attr("x1", x(t)).attr("x2", x(t)).attr("y1", top + plotH).attr("y2", top + plotH + 3.5)
      .attr("stroke", "#a6a6a6");
    xt.append("text").attr("x", x(t)).attr("y", top + plotH + 19)
      .attr("text-anchor", "middle").attr("font-size", 17).text(d3.format("d")(t));
  });

  // y ticks
  const fmt = d3.format(p.fmt);
  let maxW = 0;
  p.ticks.forEach(t => {
    g.append("line").attr("x1", left - 3.5).attr("x2", left).attr("y1", y(t)).attr("y2", y(t))
      .attr("stroke", "#a6a6a6");
    const tx = g.append("text").attr("x", left - 5.5).attr("y", y(t) + 6.5)
      .attr("text-anchor", "end").attr("font-size", 17).text(fmt(t));
    maxW = Math.max(maxW, tx.node().getComputedTextLength());
  });

  // axis labels
  const labX = left - 5.5 - maxW - 6;
  const labY = top + plotH / 2;
  g.append("text").attr("transform", `translate(${labX},${labY}) rotate(-90)`)
    .attr("text-anchor", "middle").attr("font-size", 20).text("Accuracy");
  g.append("text").attr("x", left + plotW / 2).attr("y", top + plotH + 39)
    .attr("text-anchor", "middle").attr("font-size", 20).text("Epoch");

  // title
  g.append("text").attr("x", left + plotW / 2).attr("y", top - 5)
    .attr("text-anchor", "middle").attr("font-size", 25.3).text(p.title);
});

// ---- Legend ----
const legend = svg.append("g");
legend.append("rect").attr("x", 224.5).attr("y", 9.5).attr("width", 508).attr("height", 43)
  .attr("rx", 4).attr("fill", "#fff").attr("stroke", "#d6d6d6").attr("stroke-width", 1);
const legendLineX = [231, 361, 492];
const legendTextX = [287, 417, 548];
const legendTextW = [35, 37, 175];
seriesNames.forEach((name, k) => {
  legend.append("line").attr("x1", legendLineX[k]).attr("x2", legendLineX[k] + 40)
    .attr("y1", 30).attr("y2", 30).attr("stroke", seriesColors[k]).attr("stroke-width", 2);
  legend.append("text").attr("x", legendTextX[k]).attr("y", 39).attr("font-size", 24)
    .attr("textLength", legendTextW[k]).attr("lengthAdjust", "spacingAndGlyphs").text(name);
});
</script>
</body>
</html>
